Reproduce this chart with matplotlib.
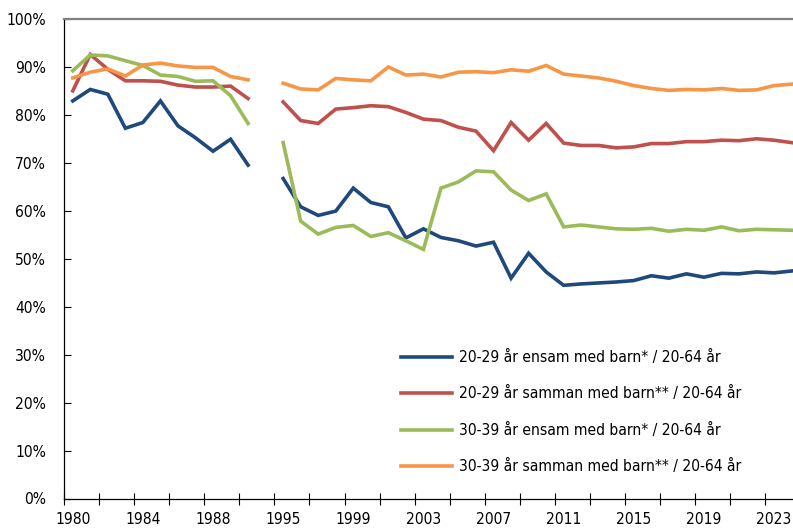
import numpy as np
import matplotlib
matplotlib.use('Agg')
import matplotlib.pyplot as plt

plt.rcParams['font.family'] = ['DejaVu Sans']
plt.rcParams['font.stretch'] = 'condensed'

# Years on the category axis (one empty slot for the missing years 1991-1994)
years = [str(y) for y in range(1980, 1991)] + [''] + [str(y) for y in range(1995, 2025)]

# Shares in percent, first block 1980-1990, second block 1995-2024
blue_a = [83.0, 85.4, 84.4, 77.3, 78.5, 83.0, 77.8, 75.3, 72.5, 75.0, 69.6]
blue_b = [66.8, 60.9, 59.1, 60.0, 64.8, 61.8, 60.9, 54.4, 56.3, 54.5,
          53.8, 52.7, 53.5, 46.0, 51.2, 47.3, 44.5, 44.8, 45.0, 45.2,
          45.5, 46.5, 46.0, 46.9, 46.2, 47.0, 46.9, 47.3, 47.1, 47.5]
red_a = [85.1, 92.7, 89.6, 87.2, 87.2, 87.1, 86.3, 85.9, 85.9, 86.1, 83.5]
red_b = [82.8, 78.9, 78.3, 81.3, 81.6, 82.0, 81.8, 80.6, 79.2, 78.9,
         77.5, 76.7, 72.6, 78.5, 74.8, 78.3, 74.2, 73.7, 73.7, 73.2,
         73.4, 74.1, 74.1, 74.5, 74.5, 74.8, 74.7, 75.1, 74.8, 74.3]
green_a = [89.3, 92.6, 92.4, 91.4, 90.4, 88.4, 88.1, 87.1, 87.2, 84.1, 78.3]
green_b = [74.3, 57.9, 55.2, 56.6, 57.0, 54.7, 55.5, 53.8, 52.0, 64.8,
           66.1, 68.4, 68.2, 64.4, 62.2, 63.6, 56.7, 57.1, 56.7, 56.3,
           56.2, 56.4, 55.8, 56.2, 56.0, 56.7, 55.9, 56.2, 56.1, 56.0]
orange_a = [87.8, 89.0, 89.7, 88.2, 90.5, 90.9, 90.3, 90.0, 90.0, 88.1, 87.4]
orange_b = [86.7, 85.5, 85.3, 87.7, 87.4, 87.2, 90.1, 88.4, 88.6, 88.0,
            89.0, 89.1, 88.9, 89.5, 89.2, 90.4, 88.6, 88.2, 87.8, 87.1,
            86.2, 85.6, 85.2, 85.4, 85.3, 85.6, 85.2, 85.3, 86.2, 86.5]

labels = ['20-29 år ensam med barn* / 20-64 år',
          '20-29 år samman med barn** / 20-64 år',
          '30-39 år ensam med barn* / 20-64 år',
          '30-39 år samman med barn** / 20-64 år']
colors = ['#1F497D', '#C0504D', '#9BBB59', '#F79646']

series = [blue_a + [np.nan] + blue_b,
          red_a + [np.nan] + red_b,
          green_a + [np.nan] + green_b,
          orange_a + [np.nan] + orange_b]

fs = 11.2

fig = plt.figure(figsize=(7.93, 5.28), dpi=100)
ax = fig.add_axes([64 / 793, 1 - 498.5 / 528, 1 - 64 / 793, 479 / 528])

x = np.arange(len(years))
for vals, lab, col in zip(series, labels, colors):
    ax.plot(x, np.array(vals) / 100, color=col, lw=2.6, label=lab,
            solid_joinstyle='miter')

ax.set_xlim(-0.5, 41.08)
ax.set_ylim(0, 1)

# y axis
ax.set_yticks(np.arange(0, 1.01, 0.1))
ax.set_yticklabels([f'{int(round(v * 100))}%' for v in np.arange(0, 1.01, 0.1)])
ax.tick_params(axis='y', direction='in', length=5, width=0.8, pad=13,
               labelsize=fs, colors='black')

# x axis: labels every 4th category, tick marks between categories
ax.set_xticks(x[::4])
ax.set_xticklabels(years[::4])
ax.set_xticks(np.arange(-0.5, 41.5, 2), minor=True)
ax.tick_params(axis='x', which='major', length=0, pad=10, labelsize=fs)
ax.tick_params(axis='x', which='minor', direction='inout', length=9, width=0.8)

ax.spines['right'].set_visible(False)
ax.spines['top'].set_color('#808080')
ax.spines['top'].set_linewidth(1.6)
ax.spines['left'].set_linewidth(0.9)
ax.spines['bottom'].set_linewidth(0.9)

ax.legend(loc='upper left', bbox_to_anchor=(401 / 793, 1 - 350 / 528),
          bbox_transform=fig.transFigure, frameon=False, fontsize=fs,
          handlelength=3.3, handletextpad=0.4, labelspacing=1.38,
          borderpad=0, borderaxespad=0)

fig.savefig('out.png', dpi=100)
